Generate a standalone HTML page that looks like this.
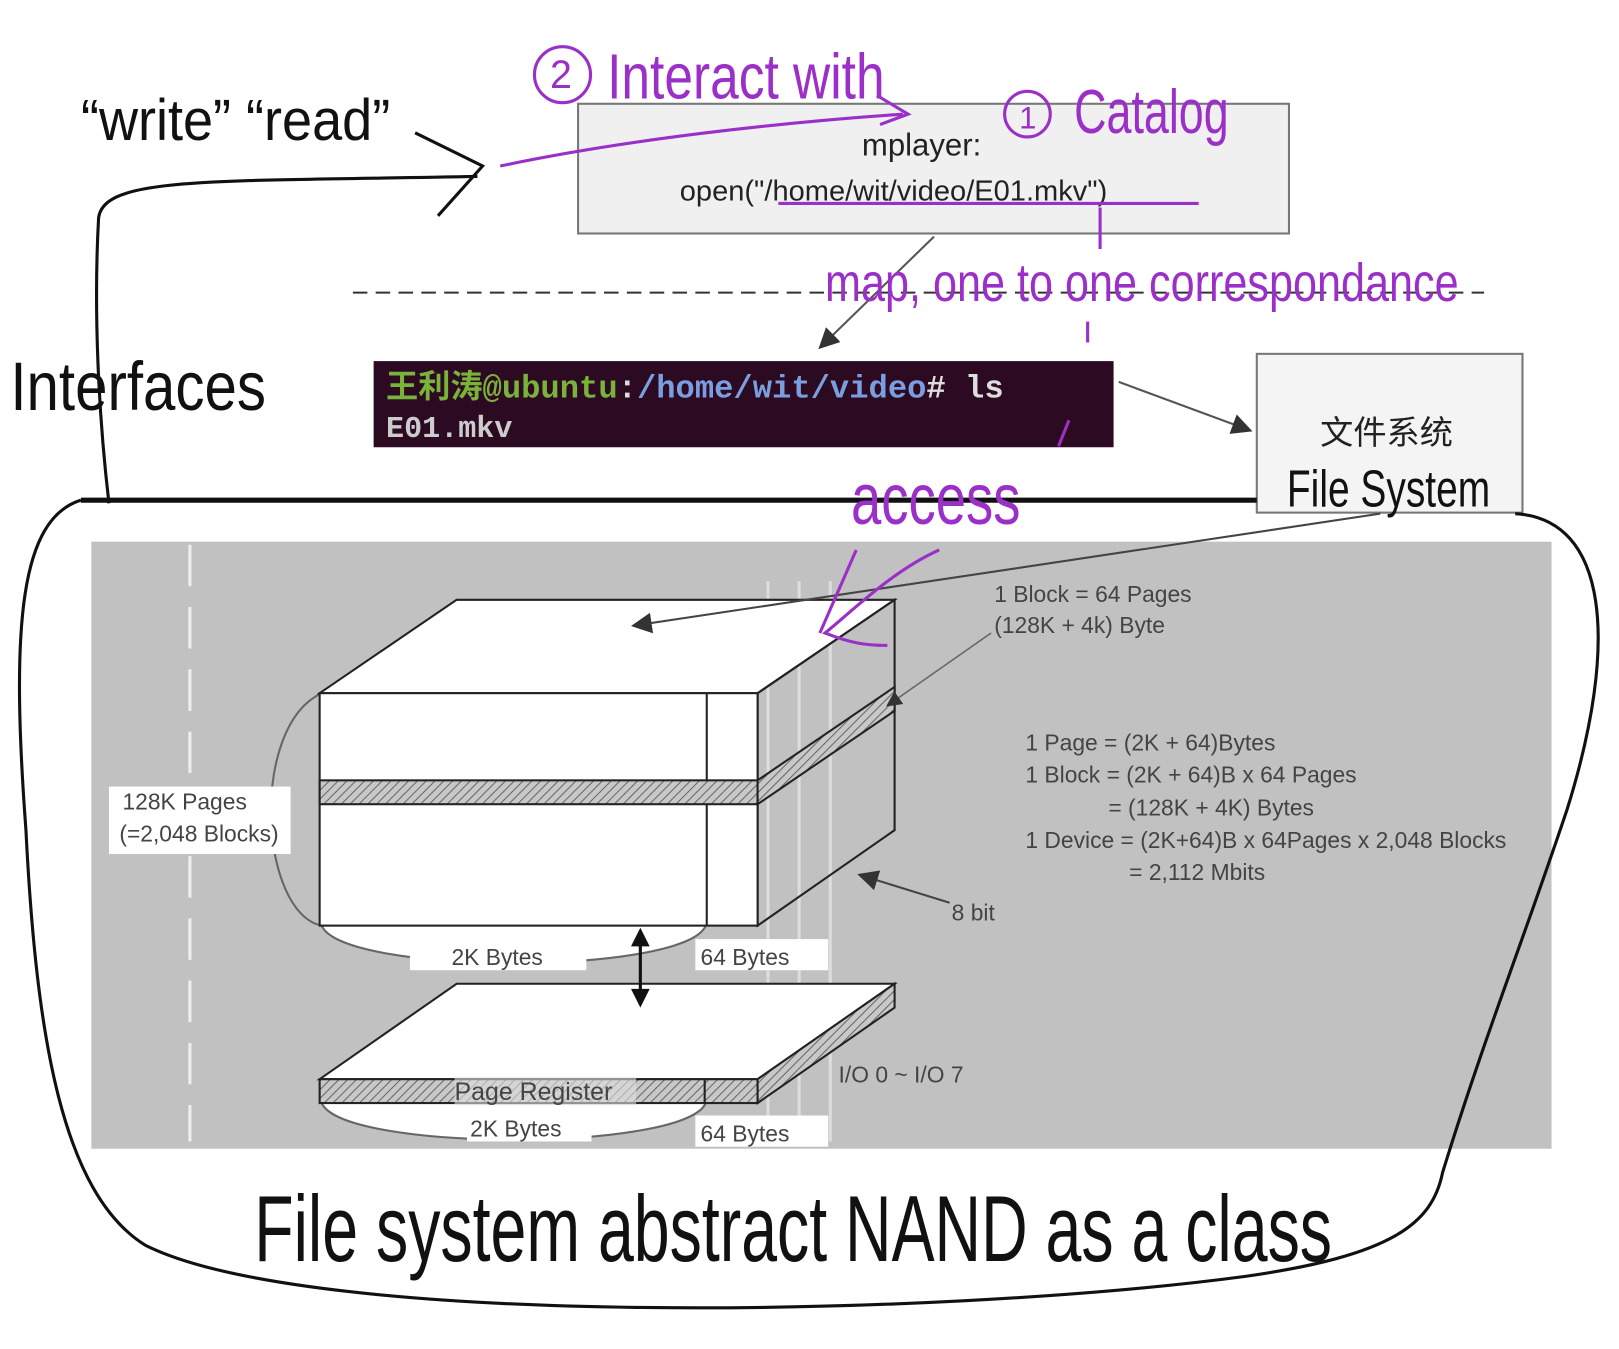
<!DOCTYPE html>
<html><head><meta charset="utf-8"><style>
html,body{margin:0;padding:0;background:#fff;}
svg{display:block;}
.hw{font-family:"Liberation Sans",sans-serif;}
</style></head><body>
<svg width="1619" height="1349" viewBox="0 0 1560 1300" preserveAspectRatio="none" xmlns="http://www.w3.org/2000/svg">
<defs>
<pattern id="h" width="6" height="6" patternUnits="userSpaceOnUse" patternTransform="rotate(45)">
<rect width="6" height="6" fill="#c8c8c8"/><line x1="0" y1="0" x2="0" y2="6" stroke="#666" stroke-width="2"/>
</pattern>
<marker id="a" markerWidth="10" markerHeight="10" refX="9" refY="5" orient="auto"><path d="M0,0 L10,5 L0,10z" fill="#333"/></marker>
</defs>
<!-- mplayer box -->
<rect x="557" y="100" width="685" height="125" fill="#f0f0f0" stroke="#777" stroke-width="2"/>
<text x="888" y="150" font-family="Liberation Sans" font-size="30" text-anchor="middle" fill="#222">mplayer:</text>
<text x="655" y="193" font-family="Liberation Sans" font-size="28" fill="#222">open("/home/wit/video/E01.mkv")</text>
<!-- dashed -->
<line x1="340" y1="282" x2="1430" y2="282" stroke="#333" stroke-width="2" stroke-dasharray="14,8"/>
<line x1="900" y1="228" x2="790" y2="335" stroke="#555" stroke-width="2" marker-end="url(#a)"/>
<!-- terminal -->
<rect x="360" y="348" width="713" height="83" fill="#2c0a22"/>
<text x="372" y="383" font-family="Liberation Mono,'Noto Sans CJK SC',monospace" font-size="31" font-weight="bold"><tspan fill="#7ab33a">王利涛@ubuntu</tspan><tspan fill="#ddd">:</tspan><tspan fill="#7a9ee0">/home/wit/video</tspan><tspan fill="#ddd"># ls</tspan></text>
<text x="372" y="421" font-family="Liberation Mono,monospace" font-size="29" font-weight="bold" fill="#ccc">E01.mkv</text>
<line x1="1078" y1="368" x2="1205" y2="415" stroke="#555" stroke-width="2" marker-end="url(#a)"/>
<!-- FS box -->
<rect x="1211" y="341" width="256" height="153" fill="#f4f4f4" stroke="#777" stroke-width="2"/>
<text x="1336" y="428" font-family="'Noto Sans CJK SC',sans-serif" font-size="32" text-anchor="middle" fill="#222">文件系统</text>
<text x="1240" y="488" class="hw" font-size="50" fill="#111" transform="translate(1240 488) scale(0.75 1) translate(-1240 -488)">File System</text>
<!-- thick line -->
<line x1="78" y1="482" x2="1211" y2="482" stroke="#111" stroke-width="5"/>
<!-- gray area -->
<rect x="88" y="522" width="1407" height="585" fill="#c1c1c1"/>
<line x1="183" y1="525" x2="183" y2="1100" stroke="#eee" stroke-width="3" stroke-dasharray="40,20"/>
<line x1="740" y1="560" x2="740" y2="1100" stroke="#ddd" stroke-width="3"/>
<line x1="770" y1="560" x2="770" y2="1100" stroke="#ddd" stroke-width="3"/>
<line x1="800" y1="560" x2="800" y2="1100" stroke="#ddd" stroke-width="3"/>
<!-- curves -->
<path d="M310 668 C240 700,250 880,310 892" fill="none" stroke="#666" stroke-width="2"/>
<path d="M310 892 C330 940,660 940,680 892" fill="#fff" stroke="#666" stroke-width="2"/>
<!-- block -->
<polygon points="308,668 440,578 862,578 730,668" fill="#fff" stroke="#222" stroke-width="2"/>
<polygon points="730,668 862,578 862,800 730,892" fill="none" stroke="#222" stroke-width="2"/>
<rect x="308" y="668" width="422" height="224" fill="#fff" stroke="#222" stroke-width="2"/>
<line x1="681" y1="668" x2="681" y2="892" stroke="#222" stroke-width="2"/>
<rect x="308" y="752" width="422" height="23" fill="url(#h)" stroke="#222" stroke-width="2"/>
<polygon points="730,752 862,662 862,685 730,775" fill="url(#h)" stroke="#222" stroke-width="2"/>
<line x1="1330" y1="495" x2="610" y2="603" stroke="#444" stroke-width="2" marker-end="url(#a)"/>
<line x1="955" y1="610" x2="855" y2="680" stroke="#666" stroke-width="1.5" marker-end="url(#a)"/>
<line x1="915" y1="870" x2="828" y2="843" stroke="#444" stroke-width="2" marker-end="url(#a)"/>
<!-- labels -->
<rect x="105" y="758" width="175" height="65" fill="#fff"/>
<text x="118" y="780" font-family="Liberation Sans" font-size="22" fill="#444">128K Pages</text>
<text x="115" y="811" font-family="Liberation Sans" font-size="22" fill="#444">(=2,048 Blocks)</text>
<rect x="395" y="905" width="170" height="30" fill="#fff"/>
<text x="435" y="930" font-family="Liberation Sans" font-size="22" fill="#444">2K Bytes</text>
<rect x="670" y="905" width="128" height="30" fill="#fff"/>
<text x="675" y="930" font-family="Liberation Sans" font-size="22" fill="#444">64 Bytes</text>
<text x="958" y="580" font-family="Liberation Sans" font-size="22" fill="#444">1 Block = 64 Pages</text>
<text x="958" y="610" font-family="Liberation Sans" font-size="22" fill="#444">(128K + 4k) Byte</text>
<g font-family="Liberation Sans" font-size="22" fill="#444">
<text x="988" y="723">1 Page = (2K + 64)Bytes</text>
<text x="988" y="754">1 Block = (2K + 64)B x 64 Pages</text>
<text x="1068" y="786">= (128K + 4K) Bytes</text>
<text x="988" y="817">1 Device = (2K+64)B x 64Pages x 2,048 Blocks</text>
<text x="1088" y="848">= 2,112 Mbits</text>
<text x="917" y="887">8 bit</text>
<text x="808" y="1043">I/O 0 ~ I/O 7</text>
</g>
<!-- page register -->
<path d="M310 1063 C330 1110,660 1110,680 1063" fill="#fff" stroke="#666" stroke-width="2"/>
<polygon points="308,1040 440,948 862,948 730,1040" fill="#fff" stroke="#222" stroke-width="2"/>
<rect x="308" y="1040" width="422" height="23" fill="url(#h)" stroke="#222" stroke-width="2"/>
<line x1="679" y1="1040" x2="679" y2="1063" stroke="#222" stroke-width="2"/>
<polygon points="730,1040 862,948 862,971 730,1063" fill="url(#h)" stroke="#222" stroke-width="2"/>
<rect x="438" y="1038" width="175" height="27" fill="#ddd" opacity="0.6"/>
<text x="438" y="1060" font-family="Liberation Sans" font-size="24" fill="#444">Page Register</text>
<rect x="450" y="1070" width="120" height="30" fill="#fff"/>
<text x="453" y="1095" font-family="Liberation Sans" font-size="22" fill="#444">2K Bytes</text>
<rect x="670" y="1075" width="128" height="30" fill="#fff"/>
<text x="675" y="1100" font-family="Liberation Sans" font-size="22" fill="#444">64 Bytes</text>
<line x1="617" y1="897" x2="617" y2="968" stroke="#111" stroke-width="3"/>
<path d="M608 912 L617 894 L626 912z M608 953 L617 971 L626 953z" fill="#111"/>
<!-- big loop -->
<path d="M78 482 C20 500,10 600,25 800 C35 1000,60 1150,140 1200 C300 1280,900 1270,1200 1230 C1340 1210,1380 1180,1390 1130 C1430 1000,1470 900,1510 780 C1560 620,1550 500,1460 495" fill="none" stroke="#111" stroke-width="3"/>
<!-- left interface arrow -->
<path d="M105 485 C95 400,90 300,95 210 C100 170,200 175,460 170" fill="none" stroke="#111" stroke-width="3"/>
<path d="M400 128 L465 160 L422 208" fill="none" stroke="#111" stroke-width="3"/>
<text x="10" y="395" class="hw" font-size="66" fill="#111" transform="translate(10 395) scale(0.85 1) translate(-10 -395)">Interfaces</text>
<text x="78" y="135" class="hw" font-size="56" fill="#111" transform="translate(78 135) scale(0.93 1) translate(-78 -135)">“write” “read”</text>
<!-- purple -->
<g fill="none" stroke="#9b30c8" stroke-width="3">
<path d="M482 160 C600 135,750 118,870 110"/>
<path d="M845 92 L875 110 L848 120"/>
<line x1="750" y1="196" x2="1155" y2="196"/>
<circle cx="542" cy="72" r="27"/>
<circle cx="990" cy="110" r="22"/>
<path d="M1060 200 L1060 240 M1048 310 L1048 330 M1030 405 L1020 430"/>
<path d="M905 530 C860 550,820 590,795 610 C820 620,835 622,855 622"/>
<path d="M825 530 L790 610"/>
</g>
<g class="hw" fill="#9b30c8">
<text x="585" y="95" font-size="62" transform="translate(585 95) scale(0.8 1) translate(-585 -95)">Interact with</text>
<text x="1035" y="128" font-size="60" transform="translate(1035 128) scale(0.72 1) translate(-1035 -128)">Catalog</text>
<text x="795" y="290" font-size="52" transform="translate(795 290) scale(0.8 1) translate(-795 -290)">map, one to one correspondance</text>
<text x="820" y="505" font-size="70" transform="translate(820 505) scale(0.75 1) translate(-820 -505)">access</text>
</g>
<g font-size="38" fill="#9b30c8" font-family="Liberation Sans">
<text x="530" y="85">2</text><text x="982" y="124" font-size="30">1</text>
</g>
<text x="245" y="1215" class="hw" font-size="90" fill="#111" transform="translate(245 1215) scale(0.69 1) translate(-245 -1215)">File system abstract NAND as a class</text>
</svg>
</body></html>
